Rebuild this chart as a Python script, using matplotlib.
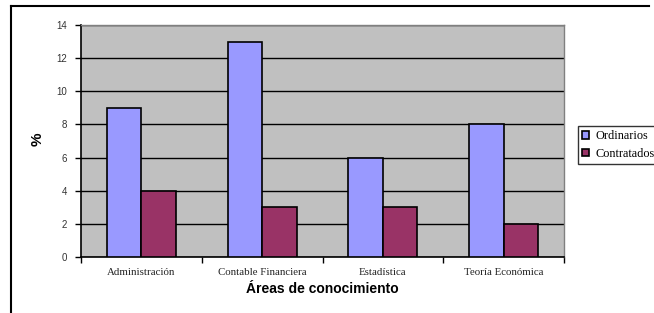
import matplotlib
matplotlib.use("Agg")
import matplotlib.pyplot as plt
from matplotlib.lines import Line2D
import numpy as np

categories = ["Administración", "Contable Financiera", "Estadística", "Teoría Económica"]
ordinarios = [9, 13, 6, 8]
contratados = [4, 3, 3, 2]
series_names = ["Ordinarios", "Contratados"]
yticks = [0, 2, 4, 6, 8, 10, 12, 14]

W, H = 654, 313
fig = plt.figure(figsize=(W/100, H/100), dpi=100)
fig.patch.set_facecolor("white")

L, R, T, B = 81, 564, 25, 257
ax = fig.add_axes([L/W, 1-B/H, (R-L)/W, (B-T)/H])
ax.set_facecolor("#C0C0C0")

x = np.arange(len(categories))
bw = 1/3.5
ax.bar(x - bw/2, ordinarios, bw, color="#9999FF", edgecolor="black", linewidth=1.2, zorder=3, label=series_names[0])
ax.bar(x + bw/2, contratados, bw, color="#993366", edgecolor="black", linewidth=1.2, zorder=3, label=series_names[1])

ax.set_xlim(-0.5, len(categories)-0.5)
ax.set_ylim(0, 14)
ax.set_yticks(yticks)
ax.set_yticklabels([str(v) for v in yticks], fontsize=7, family="Liberation Sans", color="#333333")
ax.yaxis.grid(True, color="black", linewidth=1, zorder=1)
ax.set_axisbelow(True)

ax.set_xticks(np.arange(len(categories)+1) - 0.5)
ax.set_xticklabels([])
ax.set_xticks(x, minor=True)
ax.set_xticklabels(categories, minor=True, fontsize=7.8, family="Liberation Serif", color="#222222")
ax.tick_params(axis="x", which="minor", length=0, pad=8)
ax.tick_params(axis="x", which="major", length=4, width=1, direction="out")
ax.tick_params(axis="y", length=4, width=1, direction="out", pad=6)

for s in ["top", "right"]:
    ax.spines[s].set_color("#808080")
    ax.spines[s].set_linewidth(1)
for s in ["left", "bottom"]:
    ax.spines[s].set_color("black")
    ax.spines[s].set_linewidth(1.2)

fig.text(38/W, 1-139/H, "%", rotation=90, ha="center", va="center", fontsize=11, fontweight="bold", family="Liberation Sans")
fig.text(322/W, 1-289/H, "Áreas de conocimiento", ha="center", va="center", fontsize=10, fontweight="bold", family="Liberation Sans")

# outer chart border (left and top visible)
fig.add_artist(Line2D([11/W, 11/W], [0, 1-6/H], color="black", linewidth=1.5, transform=fig.transFigure))
fig.add_artist(Line2D([11/W, 649/W], [1-6/H, 1-6/H], color="black", linewidth=1.5, transform=fig.transFigure))

leg = fig.legend(loc="upper left", bbox_to_anchor=(578/W, 1-126/H), bbox_transform=fig.transFigure,
                 prop={"family": "Liberation Serif", "size": 8.8}, frameon=True, fancybox=False,
                 handlelength=0.55, handleheight=0.55, handletextpad=0.5, borderpad=0.35, labelspacing=0.45,
                 borderaxespad=0)
leg.get_frame().set_edgecolor("black")
leg.get_frame().set_linewidth(1)

fig.savefig("out.png", dpi=100)
